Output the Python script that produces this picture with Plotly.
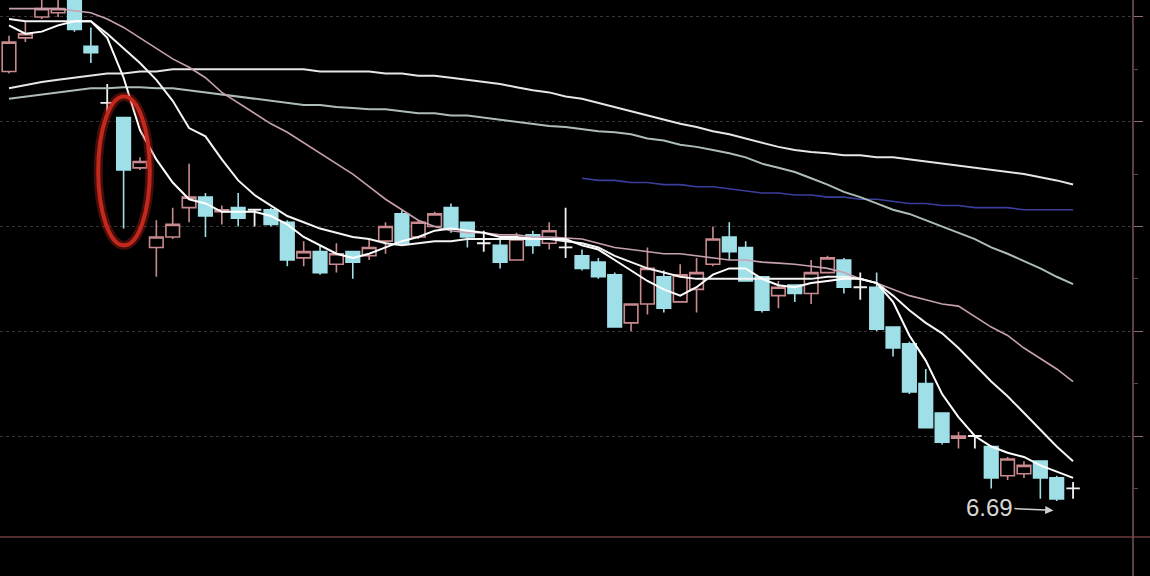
import plotly.graph_objects as go

# ---------------- data ----------------
opens = [8.74, 8.90, 9.00, 9.02, 9.14, 8.86, 8.59, 8.52, 8.28, 7.90,
         7.95, 8.09, 8.14, 8.07, 8.09, 8.08, 8.08, 8.02, 7.85, 7.88,
         7.82, 7.88, 7.86, 7.93, 8.06, 7.95, 8.00, 8.09, 8.02, 7.92,
         7.91, 7.84, 7.96, 7.92, 7.90, 7.86, 7.83, 7.77, 7.54, 7.63,
         7.76, 7.64, 7.70, 7.82, 7.95, 7.90, 7.76, 7.67, 7.72, 7.68,
         7.78, 7.84, 7.71, 7.71, 7.52, 7.44, 7.25, 7.11, 6.99, 7.00,
         6.95, 6.81, 6.82, 6.88, 6.80, 6.75]
highs = [8.91, 8.98, 9.09, 9.10, 9.16, 8.95, 8.68, 8.52, 8.33, 8.03,
         8.09, 8.30, 8.16, 8.10, 8.16, 8.08, 8.09, 8.03, 7.93, 7.91,
         7.92, 7.88, 7.94, 8.02, 8.08, 8.03, 8.07, 8.11, 8.02, 7.98,
         7.95, 7.97, 7.98, 8.02, 8.09, 7.89, 7.85, 7.78, 7.63, 7.90,
         7.79, 7.82, 7.85, 8.00, 8.02, 7.93, 7.76, 7.74, 7.72, 7.84,
         7.86, 7.85, 7.78, 7.78, 7.52, 7.45, 7.32, 7.11, 7.02, 7.00,
         6.95, 6.90, 6.88, 6.88, 6.81, 6.78]
lows = [8.73, 8.88, 8.99, 9.00, 8.93, 8.78, 8.54, 7.99, 8.27, 7.76,
        7.94, 8.02, 7.95, 8.01, 8.00, 8.00, 8.00, 7.81, 7.81, 7.77,
        7.78, 7.75, 7.84, 7.87, 7.91, 7.94, 8.00, 7.97, 7.90, 7.88,
        7.80, 7.84, 7.87, 7.89, 7.85, 7.79, 7.75, 7.52, 7.50, 7.58,
        7.59, 7.64, 7.59, 7.81, 7.84, 7.74, 7.59, 7.61, 7.64, 7.63,
        7.78, 7.68, 7.65, 7.50, 7.38, 7.20, 7.04, 6.96, 6.94, 6.94,
        6.75, 6.79, 6.80, 6.70, 6.69, 6.70]
closes = [8.88, 8.92, 9.04, 9.04, 8.94, 8.83, 8.59, 8.27, 8.31, 7.95,
          8.01, 8.14, 8.05, 8.08, 8.04, 8.08, 8.01, 7.84, 7.88, 7.78,
          7.87, 7.83, 7.90, 8.00, 7.92, 8.02, 8.06, 7.99, 7.95, 7.92,
          7.83, 7.94, 7.91, 7.98, 7.90, 7.80, 7.76, 7.52, 7.63, 7.80,
          7.61, 7.77, 7.78, 7.94, 7.88, 7.74, 7.60, 7.71, 7.68, 7.78,
          7.85, 7.71, 7.71, 7.51, 7.42, 7.21, 7.04, 6.97, 7.00, 7.00,
          6.80, 6.89, 6.86, 6.80, 6.70, 6.75]

ma5 = [8.96, 8.92, 8.93, 8.96, 8.98, 8.98, 8.90, 8.71, 8.46, 8.32,
       8.21, 8.13, 8.11, 8.07, 8.07, 8.07, 8.05, 8.01, 7.95, 7.91,
       7.87, 7.85, 7.87, 7.90, 7.93, 7.95, 7.98, 7.99, 7.98, 7.97,
       7.95, 7.95, 7.94, 7.94, 7.94, 7.91, 7.89, 7.84, 7.79, 7.74,
       7.70, 7.67, 7.71, 7.77, 7.80, 7.80, 7.75, 7.72, 7.71, 7.73,
       7.74, 7.75, 7.75, 7.73, 7.64, 7.48, 7.36, 7.20, 7.09, 7.00,
       6.95, 6.92, 6.90, 6.86, 6.83, 6.80]
ma10 = [8.99, 8.98, 8.98, 8.98, 8.98, 8.98, 8.92, 8.85, 8.78, 8.70,
        8.60, 8.47, 8.43, 8.32, 8.22, 8.15, 8.10, 8.05, 8.02, 7.99,
        7.97, 7.95, 7.94, 7.92, 7.91, 7.92, 7.93, 7.93, 7.94, 7.94,
        7.94, 7.94, 7.94, 7.94, 7.93, 7.92, 7.90, 7.86, 7.83, 7.80,
        7.78, 7.76, 7.75, 7.75, 7.75, 7.75, 7.75, 7.75, 7.75, 7.75,
        7.76, 7.76, 7.75, 7.73, 7.67, 7.60, 7.54, 7.49, 7.42, 7.34,
        7.26, 7.19, 7.11, 7.03, 6.95, 6.88]
ma20 = [9.04, 9.04, 9.04, 9.04, 9.03, 9.02, 8.99, 8.95, 8.90, 8.85,
        8.80, 8.76, 8.71, 8.64, 8.59, 8.54, 8.49, 8.45, 8.40, 8.35,
        8.30, 8.25, 8.19, 8.13, 8.08, 8.03, 8.00, 7.98, 7.97, 7.97,
        7.96, 7.96, 7.95, 7.95, 7.945, 7.94, 7.92, 7.90, 7.89, 7.88,
        7.87, 7.87, 7.86, 7.85, 7.84, 7.84, 7.83, 7.825, 7.82, 7.81,
        7.80, 7.78, 7.75, 7.73, 7.70, 7.67, 7.65, 7.63, 7.62, 7.57,
        7.52, 7.48, 7.42, 7.37, 7.32, 7.26]
ma60 = [8.61, 8.62, 8.63, 8.64, 8.65, 8.66, 8.66, 8.665, 8.665, 8.66,
        8.66, 8.65, 8.64, 8.63, 8.62, 8.61, 8.60, 8.59, 8.58, 8.58,
        8.57, 8.565, 8.56, 8.56, 8.55, 8.54, 8.54, 8.53, 8.53, 8.52,
        8.51, 8.50, 8.49, 8.48, 8.475, 8.465, 8.455, 8.45, 8.44, 8.42,
        8.41, 8.39, 8.38, 8.365, 8.35, 8.33, 8.30, 8.28, 8.26, 8.23,
        8.20, 8.165, 8.14, 8.11, 8.08, 8.06, 8.03, 8.00, 7.97, 7.94,
        7.90, 7.87, 7.835, 7.80, 7.76, 7.725]
ma120 = [8.66, 8.675, 8.69, 8.70, 8.71, 8.72, 8.73, 8.73, 8.74, 8.74,
         8.75, 8.75, 8.75, 8.75, 8.75, 8.75, 8.75, 8.75, 8.75, 8.74,
         8.74, 8.74, 8.74, 8.73, 8.73, 8.72, 8.72, 8.71, 8.70, 8.69,
         8.68, 8.665, 8.65, 8.64, 8.62, 8.61, 8.59, 8.57, 8.55, 8.53,
         8.51, 8.49, 8.475, 8.455, 8.44, 8.42, 8.40, 8.38, 8.365, 8.355,
         8.35, 8.34, 8.34, 8.33, 8.33, 8.32, 8.31, 8.30, 8.29, 8.28,
         8.27, 8.26, 8.25, 8.235, 8.22, 8.20]
ma250 = [None] * 35 + [
         8.23, 8.22, 8.22, 8.21, 8.21, 8.20, 8.20, 8.19, 8.19, 8.18,
         8.17, 8.16, 8.16, 8.15, 8.15, 8.14, 8.14, 8.13, 8.13, 8.12,
         8.11, 8.11, 8.10, 8.10, 8.09, 8.09, 8.09, 8.08, 8.08, 8.08, 8.08]

grid_levels = [7.0, 7.5, 8.0, 8.5, 9.0]
low_label = "6.69"

# ---------------- figure ----------------
idx = list(range(len(opens)))
body = [i for i in idx if opens[i] != closes[i]]
doji = [i for i in idx if opens[i] == closes[i]]

UP = "#c98a8f"
DN = "#9fdfe8"

fig = go.Figure()
fig.add_trace(go.Candlestick(
    x=body, open=[opens[i] for i in body], high=[highs[i] for i in body],
    low=[lows[i] for i in body], close=[closes[i] for i in body],
    increasing=dict(line=dict(color=UP, width=1.6), fillcolor="#000000"),
    decreasing=dict(line=dict(color=DN, width=1.6), fillcolor=DN),
    whiskerwidth=0, showlegend=False, hoverinfo="skip"))
fig.add_trace(go.Candlestick(
    x=doji, open=[opens[i] for i in doji], high=[highs[i] for i in doji],
    low=[lows[i] for i in doji], close=[closes[i] for i in doji],
    increasing=dict(line=dict(color="#f2f2f2", width=1.8), fillcolor="#f2f2f2"),
    decreasing=dict(line=dict(color="#f2f2f2", width=1.8), fillcolor="#f2f2f2"),
    whiskerwidth=0, showlegend=False, hoverinfo="skip"))

lines = [
    (ma250, "#3b3f9c", 1.6),
    (ma120, "#e6e6e6", 2.0),
    (ma60, "#aebdb4", 2.0),
    (ma20, "#c7a0b0", 1.6),
    (ma10, "#f4f4f4", 2.0),
    (ma5, "#ffffff", 2.0),
]
for vals, col, w in lines:
    fig.add_trace(go.Scatter(x=idx, y=vals, mode="lines",
                             line=dict(color=col, width=w),
                             showlegend=False, hoverinfo="skip",
                             connectgaps=False))

# red hand-drawn ellipse around the long lower-shadow candle
k = 7
fig.add_shape(type="circle", xref="x", yref="y",
              x0=k - 1.55, x1=k + 1.6, y0=lows[k] - 0.08, y1=opens[k] + 0.10,
              line=dict(color="rgba(200,40,30,0.35)", width=9))
fig.add_shape(type="circle", xref="x", yref="y",
              x0=k - 1.55, x1=k + 1.6, y0=lows[k] - 0.08, y1=opens[k] + 0.10,
              line=dict(color="#c4281d", width=4))

# low price label with arrow
imin = min(idx, key=lambda i: lows[i])
fig.add_annotation(x=imin - 0.2, y=lows[imin] - 0.045, xref="x", yref="y",
                   text=low_label, showarrow=True, ax=-64, ay=-3,
                   arrowhead=2, arrowsize=1.1, arrowwidth=1.5,
                   arrowcolor="#cfcfcf",
                   font=dict(family="Liberation Sans", size=24, color="#d6d6d6"))

# frame lines (bottom and right)
fig.add_shape(type="line", xref="paper", yref="paper", x0=-0.01, x1=1.02,
              y0=0, y1=0, line=dict(color="#6e3a3c", width=1.5))
fig.add_shape(type="line", xref="paper", yref="paper", x0=1, x1=1,
              y0=-0.1, y1=1.0, line=dict(color="#7a5558", width=1.5))

fig.update_layout(
    width=1150, height=576,
    margin=dict(l=0, r=17, t=0, b=39),
    paper_bgcolor="#000000", plot_bgcolor="#000000",
    hovermode=False, showlegend=False,
    boxgap=0.17, boxgroupgap=0,
    xaxis=dict(range=[-0.55, 68.66], showgrid=False, zeroline=False,
               showticklabels=False, showline=False, ticks="",
               rangeslider=dict(visible=False), fixedrange=True),
    yaxis=dict(range=[6.518, 9.081], side="right",
               tickvals=grid_levels, showticklabels=False,
               showgrid=True, gridcolor="#3a3434", griddash="dot", gridwidth=1,
               zeroline=False, showline=False,
               ticks="outside", ticklen=9, tickcolor="#8a7070", tickwidth=1,
               minor=dict(dtick=0.25, tick0=7.0, ticks="outside", ticklen=4,
                          tickcolor="#5a4848", showgrid=False),
               fixedrange=True),
)

fig.write_html(
    "out.html",
    config={"displayModeBar": False},
    post_script="document.body.style.margin='0px';"
                "document.body.style.background='#000000';",
)
